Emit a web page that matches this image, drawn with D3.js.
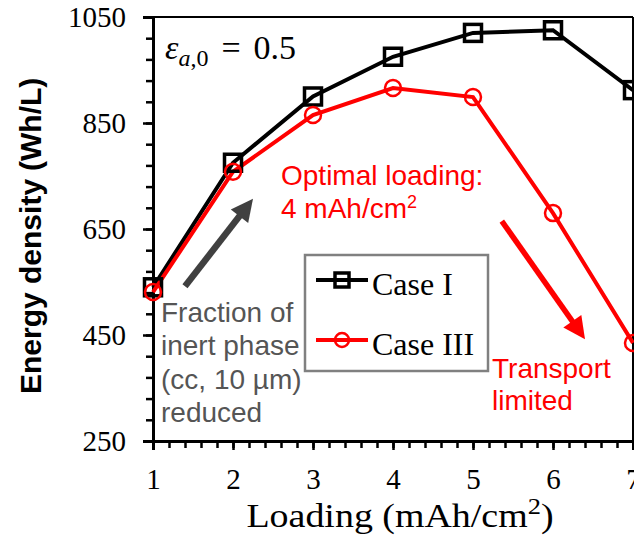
<!DOCTYPE html>
<html><head><meta charset="utf-8">
<script src="https://cdn.jsdelivr.net/npm/d3@7"></script>
<style>body{margin:0;background:#fff}svg{display:block}</style>
</head><body>
<svg id="c" width="634" height="538"></svg>
<script>
const loadings = [1, 2, 3, 4, 5, 6, 7];
const caseI = [540, 775, 900, 975, 1020, 1025, 912];
const caseIII = [531, 758, 865, 916, 899, 680, 435];
const seriesNames = ["Case I", "Case III"];
const xTicks = [1, 2, 3, 4, 5, 6, 7];
const yTicks = [250, 450, 650, 850, 1050];

const svg = d3.select("#c");
const x = d3.scaleLinear().domain([1, 7]).range([153, 633]);
const y = d3.scaleLinear().domain([250, 1050]).range([441, 17]);
const serif = "'Liberation Serif', 'Times New Roman', serif";
const sans = "'Liberation Sans', Arial, sans-serif";

// frame top/right
svg.append("line").attr("x1", x(1)).attr("x2", x(7)).attr("y1", y(1050)).attr("y2", y(1050)).attr("stroke", "#000").attr("stroke-width", 2);
svg.append("line").attr("x1", x(7)).attr("x2", x(7)).attr("y1", y(1050)).attr("y2", y(250)).attr("stroke", "#000").attr("stroke-width", 2);

// y axis
const yAxisMinor = d3.axisLeft(y).tickValues(d3.range(250, 1051, 40)).tickSize(7).tickFormat("");
const gyM = svg.append("g").attr("transform", `translate(${x(1)},0)`).call(yAxisMinor);
const yAxis = d3.axisLeft(y).tickValues(yTicks).tickSize(10).tickPadding(17).tickFormat(d3.format("d"));
const gy = svg.append("g").attr("transform", `translate(${x(1)},0)`).call(yAxis);
[gy, gyM].forEach(g => {
  g.select(".domain").attr("stroke-width", 3);
  g.selectAll(".tick line").attr("stroke-width", 2.5);
});
gy.selectAll("text").attr("font-family", serif).attr("font-size", 29).attr("fill", "#000");

// x axis
const xAxisMinor = d3.axisBottom(x).tickValues(d3.range(1, 7.001, 0.2)).tickSize(7).tickFormat("");
const gxM = svg.append("g").attr("transform", `translate(0,${y(250)})`).call(xAxisMinor);
const xAxis = d3.axisBottom(x).tickValues(xTicks).tickSize(9).tickPadding(18).tickFormat(d3.format("d"));
const gx = svg.append("g").attr("transform", `translate(0,${y(250)})`).call(xAxis);
[gx, gxM].forEach(g => {
  g.select(".domain").attr("stroke-width", 3);
  g.selectAll(".tick line").attr("stroke-width", 2.5);
});
gx.selectAll("text").attr("font-family", serif).attr("font-size", 29).attr("fill", "#000");

// axis labels (y label drawn in two parts)
const yLabelParts = ["Energy density", "(Wh/L)"];
const yl = svg.append("g").attr("transform", "translate(41,394) rotate(-90)");
yl.append("text").attr("x", 0).attr("y", 0).attr("text-anchor", "start")
  .attr("font-family", sans).attr("font-weight", "bold").attr("font-size", 30)
  .text(yLabelParts[0]);
yl.append("text").attr("x", 223).attr("y", 0).attr("text-anchor", "start")
  .attr("font-family", sans).attr("font-weight", "bold").attr("font-size", 30)
  .text(yLabelParts[1]);
const xlg = svg.append("g").attr("transform", "translate(400,527) scale(1.15,1)");
const xl = xlg.append("text").attr("x", 0).attr("y", 0).attr("text-anchor", "middle")
  .attr("font-family", serif).attr("font-size", 33);
xl.append("tspan").text("Loading (mAh/cm");
xl.append("tspan").attr("dy", -13).attr("font-size", 23).text("2");
xl.append("tspan").attr("dy", 13).text(")");

// epsilon label
const eps = svg.append("text").attr("x", 165).attr("y", 59).attr("font-family", serif).attr("font-size", 34);
eps.append("tspan").attr("font-style", "italic").text("ε");
eps.append("tspan").attr("dy", 7).attr("font-size", 24).attr("font-style", "italic").text("a");
eps.append("tspan").attr("font-size", 24).text(",0");
eps.append("tspan").attr("dy", -7).attr("dx", 13).text("=");
eps.append("tspan").attr("dx", 13).text("0.5");

// lines
const line = d3.line().x((d, i) => x(loadings[i])).y(d => y(d));
svg.append("path").datum(caseI).attr("d", line).attr("fill", "none").attr("stroke", "#000").attr("stroke-width", 4);
svg.append("path").datum(caseIII).attr("d", line).attr("fill", "none").attr("stroke", "#ff0000").attr("stroke-width", 4);
svg.selectAll("rect.m1").data(caseI).enter().append("rect").attr("class", "m1")
  .attr("x", (d, i) => x(loadings[i]) - 8.5).attr("y", d => y(d) - 8.5).attr("width", 17).attr("height", 17)
  .attr("fill", "none").attr("stroke", "#000").attr("stroke-width", 3.5);
svg.selectAll("circle.m3").data(caseIII).enter().append("circle").attr("class", "m3")
  .attr("cx", (d, i) => x(loadings[i])).attr("cy", d => y(d)).attr("r", 8)
  .attr("fill", "none").attr("stroke", "#ff0000").attr("stroke-width", 2.5);

// legend
const lg = svg.append("g");
lg.append("rect").attr("x", 305).attr("y", 255).attr("width", 183).attr("height", 116)
  .attr("fill", "#fff").attr("stroke", "#808080").attr("stroke-width", 2.5);
const legY = [280, 340];
seriesNames.forEach((name, i) => {
  const col = i === 0 ? "#000" : "#ff0000";
  lg.append("line").attr("x1", 316).attr("x2", 368).attr("y1", legY[i]).attr("y2", legY[i]).attr("stroke", col).attr("stroke-width", 4);
  if (i === 0) lg.append("rect").attr("x", 335).attr("y", legY[i] - 7).attr("width", 14).attr("height", 14).attr("fill", "none").attr("stroke", col).attr("stroke-width", 3.5);
  else lg.append("circle").attr("cx", 342).attr("cy", legY[i]).attr("r", 7).attr("fill", "none").attr("stroke", col).attr("stroke-width", 2.5);
  lg.append("text").attr("x", 372).attr("y", legY[i] + 15).attr("font-family", serif).attr("font-size", 32).text(name);
});

// annotations
function arrow(x1, y1, x2, y2, col, w, hl, hw) {
  const dx = x2 - x1, dy = y2 - y1, L = Math.hypot(dx, dy), ux = dx / L, uy = dy / L;
  const bx = x2 - ux * hl, by = y2 - uy * hl;
  svg.append("line").attr("x1", x1).attr("y1", y1).attr("x2", bx + ux * 2).attr("y2", by + uy * 2).attr("stroke", col).attr("stroke-width", w);
  svg.append("path").attr("d", `M${x2},${y2}L${bx - uy * hw},${by + ux * hw}L${bx + uy * hw},${by - ux * hw}Z`).attr("fill", col);
}
arrow(x(1.4), y(542), x(2.25), y(707), "#404040", 6.5, 22, 11);
arrow(x(5.36), y(665), x(6.4), y(442), "#ff0000", 5.5, 22, 11);

function multiline(lines, x0, y0, dy, col) {
  const t = svg.append("text").attr("font-family", sans).attr("font-size", 28).attr("fill", col);
  lines.forEach((l, i) => t.append("tspan").attr("x", x0).attr("y", y0 + i * dy).text(l));
  return t;
}
const opt = svg.append("text").attr("font-family", sans).attr("font-size", 28).attr("fill", "#ff0000");
opt.append("tspan").attr("x", 281).attr("y", 185).text("Optimal loading:");
opt.append("tspan").attr("x", 281).attr("y", 218).text("4 mAh/cm");
opt.append("tspan").attr("dy", -10).attr("font-size", 18).text("2");
multiline(["Fraction of", "inert phase", "(cc, 10 µm)", "reduced"], 161, 322, 33.3, "#555555");
multiline(["Transport", "limited"], 492, 378, 32, "#ff0000");
</script>
</body></html>
